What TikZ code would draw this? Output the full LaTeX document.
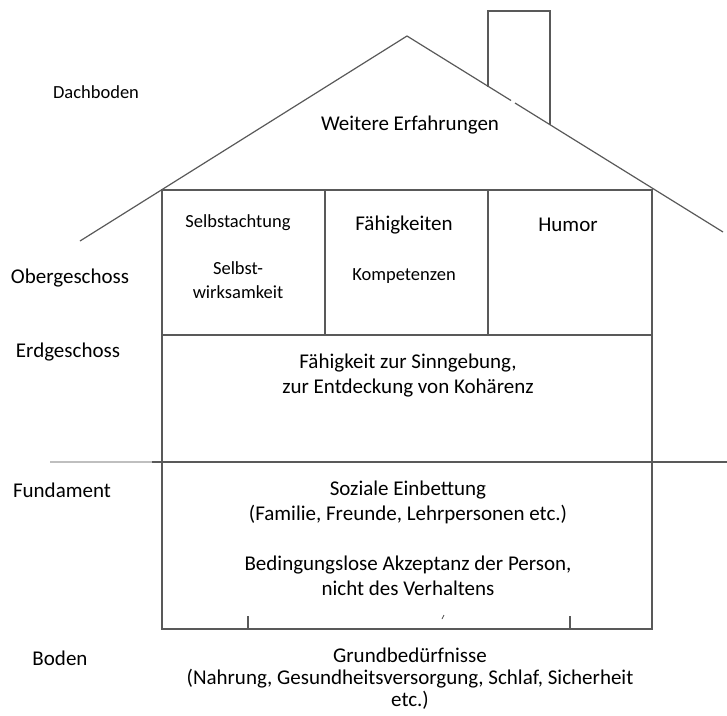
\documentclass[tikz,border=0pt]{standalone}
\usepackage{fontspec}
\setmainfont{Carlito}
\usepackage{tikz}

\begin{document}
\begin{tikzpicture}
	[x=1pt, y=-1pt,
	wall/.style={draw=black!65, line width=1.2pt},
	big/.style={font=\fontsize{21}{25}\selectfont, align=center, inner sep=0pt},
	small/.style={font=\fontsize{18.5}{24}\selectfont, align=center, inner sep=0pt}]
	\useasboundingbox (0,0) rectangle (727,715);
	\coordinate (eaveL) at (80,241);
	\coordinate (apex) at (407,36);
	\coordinate (eaveR) at (723,232);
	\draw[wall] (eaveL) -- (apex) -- (511,100.5);
	\draw[wall] (515,103) -- (eaveR);
	\draw[wall] (488,86.5) |- (550,11) -- (550,124.5);
	\draw[wall] (162,629) |- (652,190) -- (652,629) -- cycle;
	\draw[wall] (325,190) -- (325,335);
	\draw[wall] (488,190) -- (488,335);
	\draw[wall] (162,335) -- (652,335);
	\draw[black!25, line width=1.2pt] (50,462) -- (152,462);
	\draw[wall] (152,462) -- (727,462);
	\draw[wall] (248,616) -- (248,629);
	\draw[wall] (570,616) -- (570,629);
	\draw[black!70, line width=0.8pt] (442,619) -- (444,615);
	\node[big] (roof) at (410,125) {Weitere Erfahrungen};
	\node[small] (selbst) at (238,223) {Selbstachtung};
	\node[small] (wirk) at (238,280) {Selbst-\\wirksamkeit};
	\node[big] (faeh) at (404,225) {Fähigkeiten};
	\node[small] (komp) at (404,276) {Kompetenzen};
	\node[big] (humor) at (568,225) {Humor};
	\node[big] (sinn) at (408,376) {Fähigkeit zur Sinngebung,\\zur Entdeckung von Kohärenz};
	\node[big] (sozial) at (408,502) {Soziale Einbettung\\(Familie, Freunde, Lehrpersonen etc.)};
	\node[big] (akzept) at (408,576) {Bedingungslose Akzeptanz der Person,\\nicht des Verhaltens};
	\node[big, font=\fontsize{21}{22}\selectfont] (grund) at (410,679) {Grundbedürfnisse\\(Nahrung, Gesundheitsversorgung, Schlaf, Sicherheit\\etc.)};
	\node[small] (dach) at (96,92) {Dachboden};
	\node[big] (ober) at (70,278) {Obergeschoss};
	\node[big] (erd) at (68,352) {Erdgeschoss};
	\node[big] (fund) at (62,490) {Fundament};
	\node[big] (boden) at (60,658) {Boden};
\end{tikzpicture}
\end{document}
